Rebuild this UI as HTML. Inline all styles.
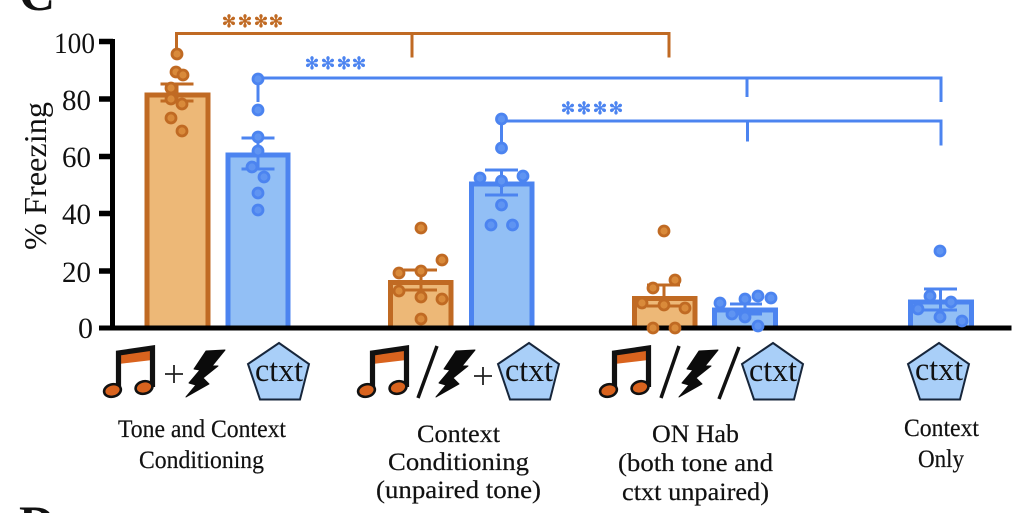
<!DOCTYPE html>
<html lang="en"><head><meta charset="utf-8"><title>Percent freezing by conditioning group</title>
<style>
html,body{margin:0;padding:0;background:#fff;width:1018px;height:513px;overflow:hidden}
svg{display:block;filter:blur(.3px)}
text{font-family:"Liberation Serif",serif;fill:#111}
.star{font-family:"DejaVu Sans",sans-serif;font-size:17px;text-anchor:middle;stroke-width:.6px}
.so{fill:#C06A23;stroke:#C06A23}
.sb{fill:#4C84F0;stroke:#4C84F0}
.o-bar{fill:#EDB877;stroke:#C06A23;stroke-width:5}
.b-bar{fill:#92BFF5;stroke:#4C84F0;stroke-width:5}
.o-line{stroke:#C06A23;stroke-width:3;fill:none}
.b-line{stroke:#4C84F0;stroke-width:3;fill:none}
.o-dots circle{r:5px;fill:#D98A3A;stroke:#C06A23;stroke-width:2.8}
.b-dots circle{r:5px;fill:#5F94F2;stroke:#4C84F0;stroke-width:2.8}
.lab text{font-size:25px;stroke:#111;stroke-width:.2px}
.tick{font-size:30px}
.ctxt{font-size:33px;text-anchor:middle}
</style></head>
<body>
<svg width="1018" height="513" viewBox="0 0 1018 513" xmlns="http://www.w3.org/2000/svg">
<defs>
<g id="note">
<path d="M118.500 353 L152.500 348 L152.500 360 L118.500 364Z" fill="#D9631E"/>
<path d="M118.500 390V353L152.500 348V387" fill="none" stroke="#111" stroke-width="5.200"/>
<ellipse cx="112.500" cy="390.500" rx="8.500" ry="6.200" transform="rotate(-14 112.500 390.500)" fill="#D9631E" stroke="#111" stroke-width="2.600"/>
<ellipse cx="144" cy="387.500" rx="8.500" ry="6.200" transform="rotate(-14 144 387.500)" fill="#D9631E" stroke="#111" stroke-width="2.600"/>
</g>
<polygon id="bolt" fill="#0b0b0b" stroke="#0b0b0b" stroke-width="1" stroke-linejoin="round" points="206,351 225,350 212,366 218,366 203,378 209,384 186,397 196,385 189,383 200,370 194,369"/>
<g id="pent">
<polygon points="279,343 309,364 300,399.500 260,399.500 248,364" fill="#A9CFF8" stroke="#17263b" stroke-width="2"/>
</g>
</defs>

<text x="19" y="10" font-size="50" font-weight="700">C</text>
<text x="19" y="540" font-size="50" font-weight="700">D</text>

<!-- bars -->
<rect class="o-bar" x="147" y="95" width="61" height="233"/>
<rect class="b-bar" x="228" y="155" width="60" height="173"/>
<rect class="o-bar" x="390.500" y="282.500" width="60.500" height="45.500"/>
<rect class="b-bar" x="471.500" y="184" width="60.500" height="144"/>
<rect class="o-bar" x="634.500" y="298.500" width="60.500" height="29.500"/>
<rect class="b-bar" x="714.500" y="310" width="61" height="18"/>
<rect class="b-bar" x="910.500" y="302" width="61" height="26"/>

<!-- axes -->
<path d="M112.500 39V330" stroke="#000" stroke-width="5" fill="none"/>
<path d="M99 328H1011.500" stroke="#000" stroke-width="5" fill="none"/>
<path d="M99 41.500H113M99 99H113M99 156.500H113M99 213.500H113M99 271H113" stroke="#000" stroke-width="5.500" fill="none"/>
<g class="tick" text-anchor="end">
<text x="95" y="53" textLength="41" lengthAdjust="spacingAndGlyphs">100</text>
<text x="91" y="110" textLength="29" lengthAdjust="spacingAndGlyphs">80</text>
<text x="91" y="167" textLength="29" lengthAdjust="spacingAndGlyphs">60</text>
<text x="91" y="224" textLength="29" lengthAdjust="spacingAndGlyphs">40</text>
<text x="91" y="282" textLength="29" lengthAdjust="spacingAndGlyphs">20</text>
<text x="93" y="338" textLength="15" lengthAdjust="spacingAndGlyphs">0</text>
</g>
<text transform="translate(46,250) rotate(-90)" font-size="32" textLength="148" lengthAdjust="spacingAndGlyphs">% Freezing</text>

<!-- error bars -->
<path class="o-line" d="M177 84V101M160.500 84H193.500M160.500 101H193.500"/>
<path class="b-line" d="M258 138V169M241.500 138H274.500M241.500 169H274.500"/>
<path class="o-line" d="M421 270V290M404 270H437M404 290H437"/>
<path class="b-line" d="M501.500 170V195M485 170H518M485 195H518"/>
<path class="o-line" d="M664 285V306M647 285H680M647 306H680"/>
<path class="b-line" d="M745 304V314M730 304H762M730 314H762"/>
<path class="b-line" d="M940.500 289V310M924 289H957M924 310H957"/>

<!-- brackets -->
<path class="o-line" d="M176.500 54V33.500H669V57.500M412 33.500V57.500"/>
<path class="b-line" d="M258 79V102M258 78H941V102M747 78V97"/>
<path class="b-line" d="M501.500 119V148M501.500 121H941V145.500M747.500 121V141.500"/>

<!-- points -->
<g class="o-dots">
<circle cx="177" cy="54"/><circle cx="176" cy="72"/><circle cx="183" cy="75"/><circle cx="171" cy="88"/><circle cx="171" cy="99"/><circle cx="182" cy="104"/><circle cx="171" cy="118"/><circle cx="182" cy="131"/>
<circle cx="421" cy="228"/><circle cx="442" cy="260"/><circle cx="399" cy="273"/><circle cx="421" cy="271"/><circle cx="399" cy="291"/><circle cx="421" cy="297"/><circle cx="442" cy="299"/><circle cx="421" cy="319"/>
<circle cx="664" cy="231"/><circle cx="675" cy="280"/><circle cx="653" cy="288"/><circle cx="642" cy="303"/><circle cx="664" cy="305"/><circle cx="685" cy="308"/><circle cx="653" cy="328"/><circle cx="675" cy="328"/>
</g>
<g class="b-dots">
<circle cx="258" cy="79"/><circle cx="258" cy="110"/><circle cx="258" cy="137"/><circle cx="258" cy="151"/><circle cx="252" cy="167"/><circle cx="264" cy="177"/><circle cx="258" cy="193"/><circle cx="258" cy="210"/>
<circle cx="501.500" cy="119"/><circle cx="501.500" cy="148"/><circle cx="480" cy="178"/><circle cx="501.500" cy="181"/><circle cx="523" cy="176"/><circle cx="501.500" cy="205"/><circle cx="491" cy="225"/><circle cx="512.500" cy="225"/>
<circle cx="720" cy="303"/><circle cx="745" cy="299"/><circle cx="758" cy="296"/><circle cx="771" cy="298"/><circle cx="732" cy="314"/><circle cx="745" cy="317"/><circle cx="758" cy="326"/>
<circle cx="940" cy="251"/><circle cx="930" cy="296"/><circle cx="951" cy="302"/><circle cx="918" cy="309"/><circle cx="940" cy="317"/><circle cx="962" cy="321"/>
</g>

<!-- significance -->
<text class="star so" x="229" y="27">✻</text><text class="star so" x="245" y="27">✻</text><text class="star so" x="261" y="27">✻</text><text class="star so" x="276" y="27">✻</text>
<text class="star sb" x="312" y="69">✻</text><text class="star sb" x="328" y="69">✻</text><text class="star sb" x="344" y="69">✻</text><text class="star sb" x="359" y="69">✻</text>
<text class="star sb" x="568" y="114">✻</text><text class="star sb" x="584" y="114">✻</text><text class="star sb" x="600" y="114">✻</text><text class="star sb" x="616" y="114">✻</text>

<!-- icons -->
<use href="#note"/>
<use href="#bolt"/>
<path d="M165 374H183M174 365V383" stroke="#222" stroke-width="1.800"/>
<use href="#pent"/>
<text class="ctxt" x="279" y="381" textLength="48" lengthAdjust="spacingAndGlyphs">ctxt</text>

<use href="#note" x="254" y="0"/>
<path d="M437 346L418 398" stroke="#111" stroke-width="3.500"/>
<use href="#bolt" x="250" y="0"/>
<path d="M474 376H492M483 367V385" stroke="#222" stroke-width="1.800"/>
<use href="#pent" x="250" y="0"/>
<text class="ctxt" x="529" y="381" textLength="48" lengthAdjust="spacingAndGlyphs">ctxt</text>

<use href="#note" x="496" y="0"/>
<path d="M679 346L661 398" stroke="#111" stroke-width="3.500"/>
<use href="#bolt" x="493" y="0"/>
<path d="M739 347L719 399" stroke="#111" stroke-width="3.500"/>
<use href="#pent" x="494" y="0"/>
<text class="ctxt" x="773" y="381" textLength="48" lengthAdjust="spacingAndGlyphs">ctxt</text>

<use href="#pent" x="660" y="0"/>
<text class="ctxt" x="939" y="380" textLength="48" lengthAdjust="spacingAndGlyphs">ctxt</text>

<!-- labels -->
<g class="lab">
<text x="118" y="437" textLength="168" lengthAdjust="spacingAndGlyphs">Tone and Context</text>
<text x="139" y="468" textLength="125" lengthAdjust="spacingAndGlyphs">Conditioning</text>
<text x="417" y="442" textLength="83" lengthAdjust="spacingAndGlyphs">Context</text>
<text x="388" y="470" textLength="141" lengthAdjust="spacingAndGlyphs">Conditioning</text>
<text x="376" y="498" textLength="165" lengthAdjust="spacingAndGlyphs">(unpaired tone)</text>
<text x="652" y="442" textLength="87" lengthAdjust="spacingAndGlyphs">ON Hab</text>
<text x="618" y="471" textLength="155" lengthAdjust="spacingAndGlyphs">(both tone and</text>
<text x="622" y="500" textLength="147" lengthAdjust="spacingAndGlyphs">ctxt unpaired)</text>
<text x="904" y="436" textLength="75" lengthAdjust="spacingAndGlyphs">Context</text>
<text x="918" y="467" textLength="46" lengthAdjust="spacingAndGlyphs">Only</text>
</g>
</svg>
</body></html>
